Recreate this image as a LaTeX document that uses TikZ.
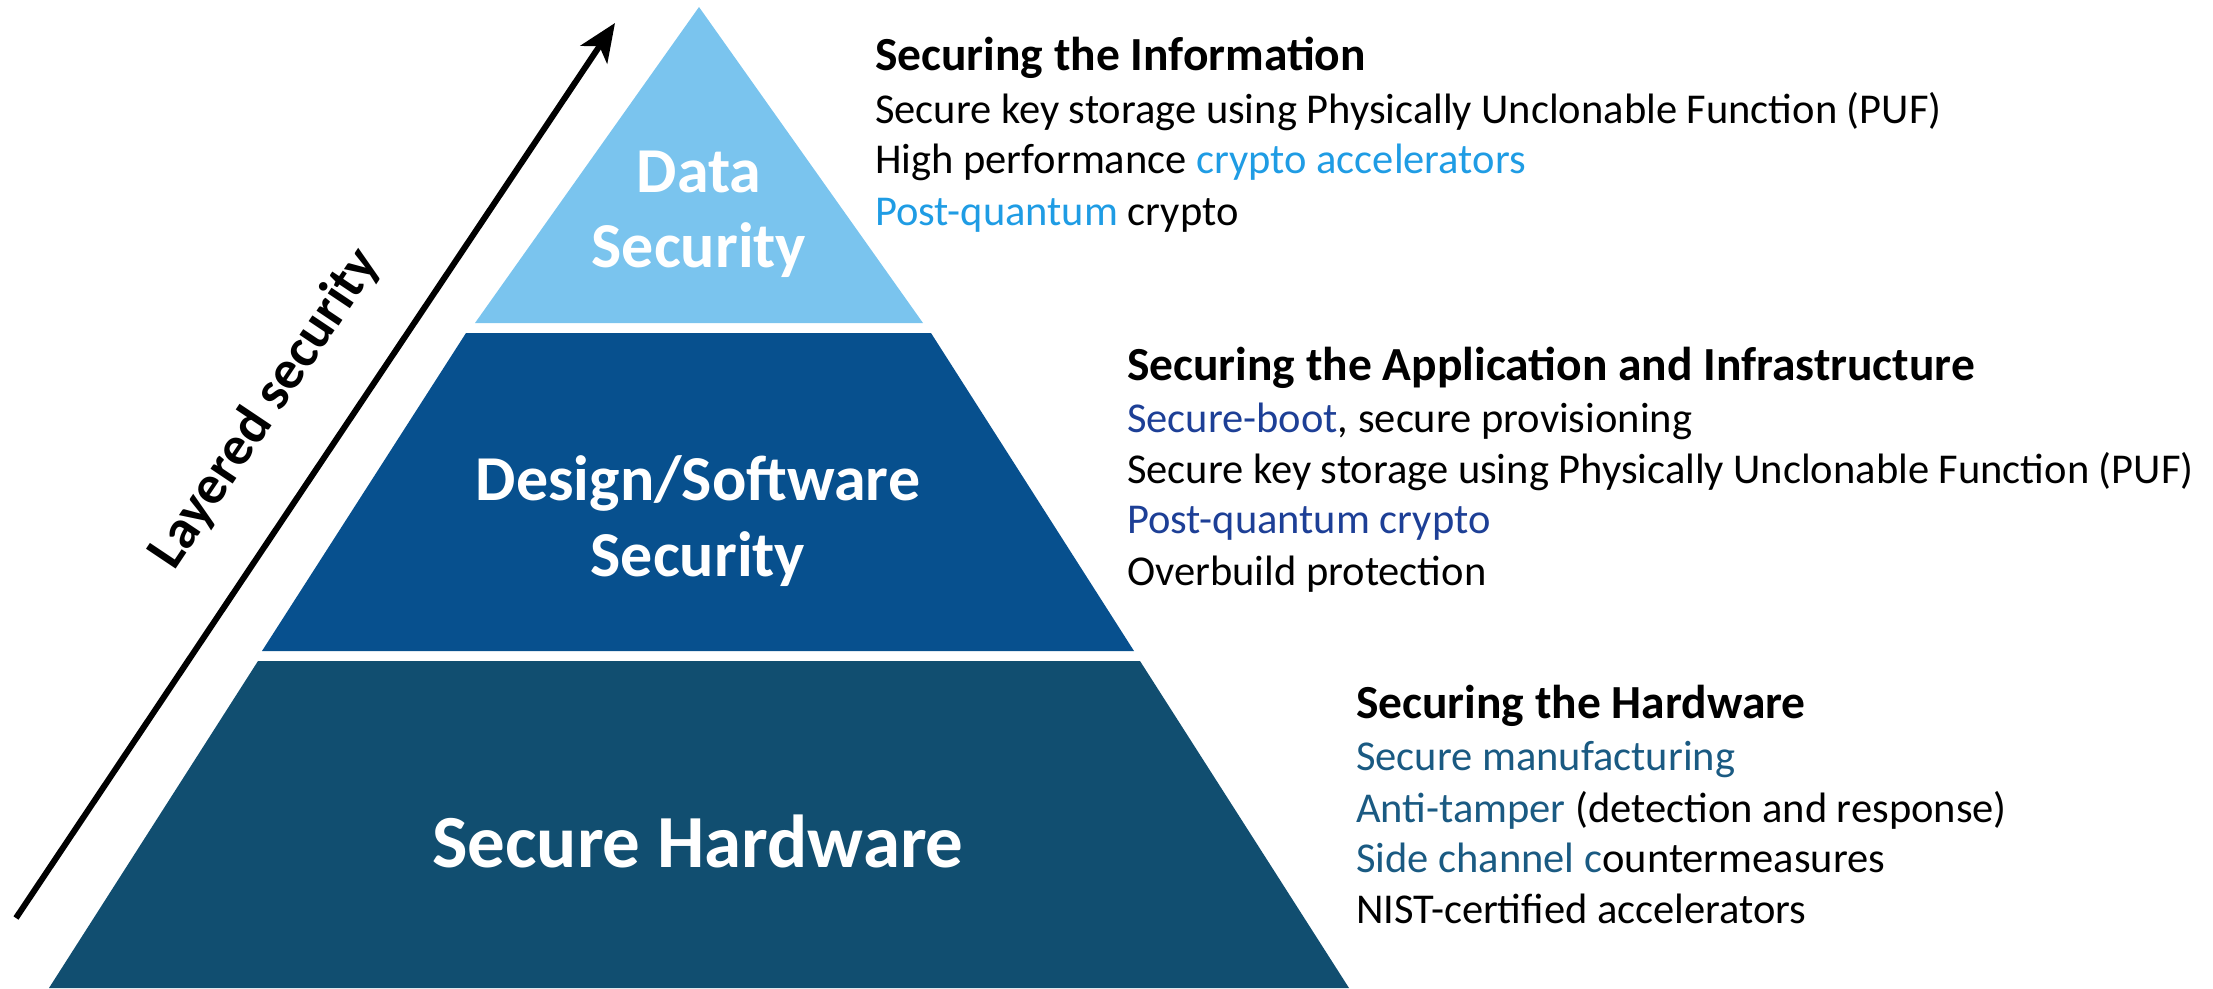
\documentclass[tikz,border=0pt]{standalone}
\usepackage{fontspec}
\setmainfont{Carlito}
\usetikzlibrary{arrows.meta}
\definecolor{toplayer}{HTML}{7AC4EE}
\definecolor{midlayer}{HTML}{07508E}
\definecolor{botlayer}{HTML}{114E70}
\definecolor{lightblue}{HTML}{1F9CE4}
\definecolor{deepblue}{HTML}{1D3F96}
\definecolor{tealblue}{HTML}{1A5A82}
\tikzset{
  layerlabel/.style={text=white, font=\fontsize{64}{75}\selectfont\bfseries, anchor=base, inner sep=0pt},
  heading/.style={anchor=base west, inner sep=0pt, font=\fontsize{47.5}{52}\selectfont\bfseries},
  item/.style={anchor=base west, inner sep=0pt, font=\fontsize{42.5}{52}\selectfont},
}
\begin{document}
\begin{tikzpicture}[x=1pt, y=-1pt]
\useasboundingbox (0,0) rectangle (2213,988);

% pyramid layers
\fill[toplayer] (699,7) -- (923,323) -- (475,323) -- cycle;
\fill[midlayer] (466,333) -- (931,333) -- (1134,651) -- (262,651) -- cycle;
\fill[botlayer] (258,661) -- (1140,661) -- (1349,988) -- (49,988) -- cycle;

% layer names
\node[layerlabel] (data1) at (699,192) {Data};
\node[layerlabel] (data2) at (699,267) {Security};
\node[layerlabel] (design1) at (698,500) {Design/Software};
\node[layerlabel] (design2) at (698,576) {Security};
\node[layerlabel, font=\fontsize{75}{80}\selectfont\bfseries] (hw) at (698,867) {Secure Hardware};

% layering arrow
\coordinate (arrowtail) at (16,918);
\coordinate (arrowhead) at (615,23);
\draw[line width=6pt, -{Stealth[length=38pt, width=32pt, inset=10pt]}] (arrowtail) -- (arrowhead);
\node[rotate=56.2, font=\fontsize{55}{58}\selectfont\bfseries, inner sep=0pt] (layered) at (265,409) {Layered security};

% data security notes
\node[heading] (h1) at (875,70) {Securing the Information};
\node[item] (a1) at (875,123) {Secure key storage using Physically Unclonable Function (PUF)};
\node[item] (a2) at (875,173) {High performance \textcolor{lightblue}{crypto accelerators}};
\node[item] (a3) at (875,225) {\textcolor{lightblue}{Post-quantum} crypto};

% design/software notes
\node[heading] (h2) at (1127,380) {Securing the Application and Infrastructure};
\node[item] (b1) at (1127,432) {\textcolor{deepblue}{Secure-boot}, secure provisioning};
\node[item] (b2) at (1127,483) {Secure key storage using Physically Unclonable Function (PUF)};
\node[item] (b3) at (1127,533) {\textcolor{deepblue}{Post-quantum crypto}};
\node[item] (b4) at (1127,585) {Overbuild protection};

% hardware notes
\node[heading] (h3) at (1356,718) {Securing the Hardware};
\node[item] (c1) at (1356,770) {\textcolor{tealblue}{Secure manufacturing}};
\node[item] (c2) at (1356,822) {\textcolor{tealblue}{Anti-tamper} (detection and response)};
\node[item] (c3) at (1356,872) {\textcolor{tealblue}{Side channel c}ountermeasures};
\node[item] (c4) at (1356,923) {NIST-certified accelerators};
\end{tikzpicture}
\end{document}
